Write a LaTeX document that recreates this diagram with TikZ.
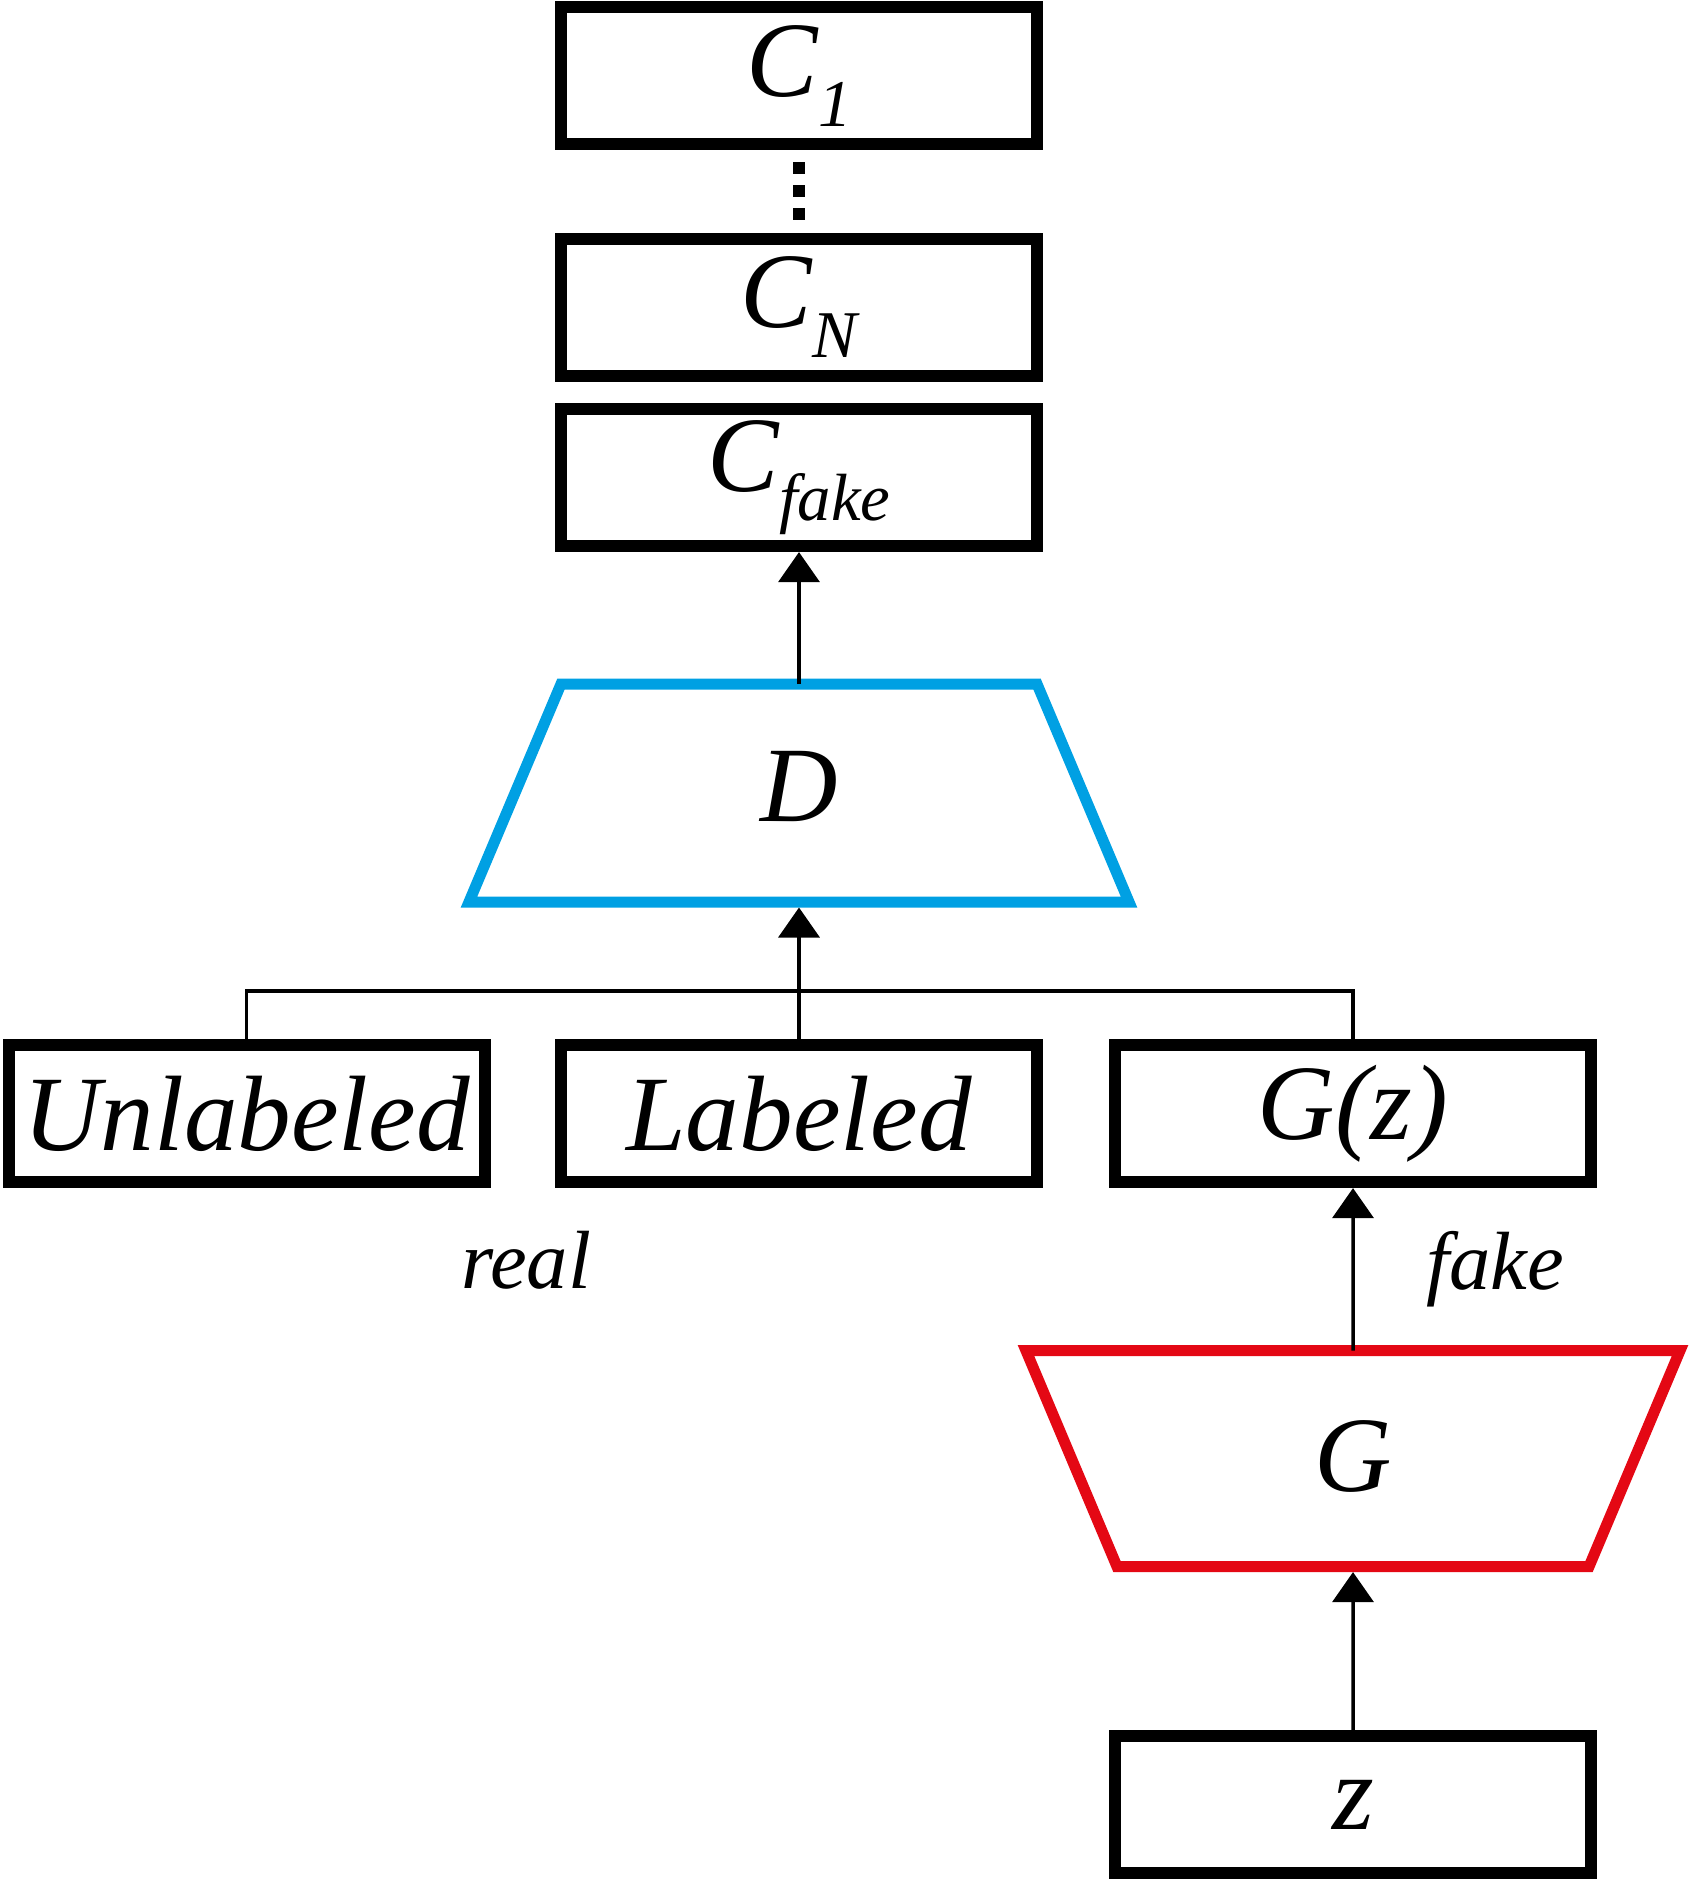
\documentclass[tikz,border=0pt]{standalone}
\usepackage{fontspec}
\setmainfont{Liberation Serif}
\usepackage{tikz}
\usetikzlibrary{arrows.meta,positioning}
\definecolor{discblue}{RGB}{0,160,227}
\definecolor{genred}{RGB}{228,8,20}
\newcommand{\lowidx}[1]{\raisebox{-8.5pt}{\fontsize{19}{22}\selectfont #1}}
\tikzset{
    %Define standard arrow tip
    >={Triangle[width=4.1mm,length=3.0mm]},
    %Define style for boxes
    block/.style={
           rectangle,
           draw=black, line width=1.2mm,
           minimum width=4.76cm,
           minimum height=1.37cm,
           inner sep=0pt,
           font=\fontsize{30.5}{36}\selectfont\itshape,
           text centered},
    %Define style for the two networks
    net/.style={
           line width=1.1mm,
           line join=miter},
    netlabel/.style={
           font=\fontsize{30.5}{36}\selectfont\itshape},
    tag/.style={
           font=\fontsize{23.5}{28}\selectfont\itshape},
    % Define arrow style
    pil/.style={
           ->,
           line width=0.35mm}
}

\begin{document}
\begin{tikzpicture}[node distance=1cm]
\useasboundingbox (0,0) rectangle (16.9,-18.82);

 %networks
\draw[net, draw=discblue] (5.61,-6.84) -- (10.37,-6.84) -- (11.29,-9.02) -- (4.69,-9.02) -- cycle;
\draw[net, draw=genred] (10.26,-13.506) -- (16.80,-13.506) -- (15.89,-15.666) -- (11.17,-15.666) -- cycle;
\coordinate (dtop) at (7.99,-6.84);
\coordinate (dbot) at (7.99,-9.075);
\coordinate (gtop) at (13.53,-13.506);
\coordinate (gbot) at (13.53,-15.721);

 %nodes
\node[block](c1) at (7.99,-0.756){C\lowidx{1}};
\node[block, below=0.826cm of c1](cn){C\lowidx{N}};
\node[block, below=0.214cm of cn](cfake){C\lowidx{fake}};
\node[netlabel](d) at (7.99,-7.86){D};
\node[block](lab) at (7.99,-11.136){Labeled};
\node[block, left=0.644cm of lab](unlab){Unlabeled};
\node[block, right=0.66cm of lab](gz){G(z)};
\node[netlabel](g) at (13.53,-14.56){G};
\node[block, below=5.422cm of gz](z){z};
\node[tag](real) at (5.26,-12.60){real};
\coordinate (split) at (7.99,-9.91);

 %connectors
\draw[line width=1.2mm, dash pattern=on 1.15mm off 1.15mm,
    shorten <=1.19mm, shorten >=1.32mm] (c1) -- (cn);
\path[pil] (dtop) edge (cfake)
    (lab) edge (dbot)
    (z) edge (gbot)
    (gtop) edge node[tag, right=0.6cm]{fake} (gz);
\draw[line width=0.35mm] (unlab.north) |- (split) -| (gz.north);

\end{tikzpicture}
\end{document}
